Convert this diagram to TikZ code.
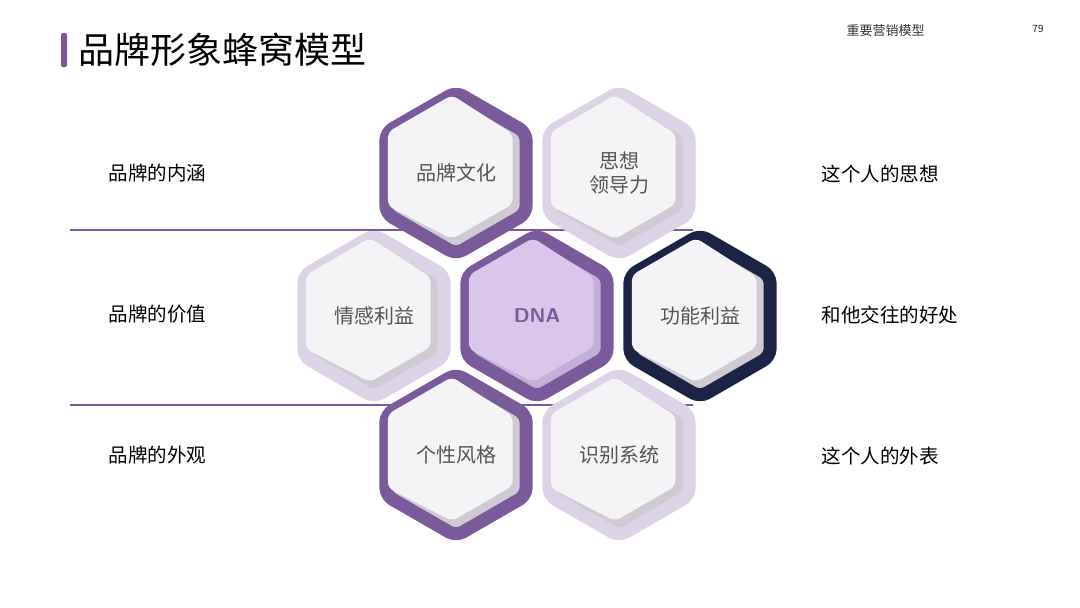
\documentclass[tikz,border=0pt]{standalone}
\usepackage{fontspec}
\setmainfont{Noto Sans CJK SC}
\definecolor{dpur}{HTML}{7B5A9B}
\definecolor{lpur}{HTML}{DCD3E6}
\definecolor{navy}{HTML}{1B2446}
\definecolor{inner}{HTML}{F4F3F5}
\definecolor{shad}{HTML}{CFCAD4}
\definecolor{dnaf}{HTML}{D9C6EA}
\definecolor{dnas}{HTML}{C4AFD8}
\definecolor{txt}{HTML}{555555}
\newcommand{\hexa}[7]{%
  \begin{scope}[shift={(#1,#2)}]
    \draw[line width=13pt,#3,rounded corners=8pt,fill=#5] (90:81)--(30:81)--(-30:81)--(-90:81)--(-150:81)--(150:81)--cycle;
    \fill[#4,rounded corners=6pt,shift={(-4,-4)}] (90:70)--(30:70)--(-30:70)--(-90:74)--(-150:74)--(150:74)--cycle;
    \node[text=txt,font=\fontsize{20}{24}\selectfont,align=center] (#6) at (0,0) {#7};
  \end{scope}}
\begin{document}
\begin{tikzpicture}[x=1pt,y=-1pt]
\useasboundingbox (0,0) rectangle (1080,608);
\fill[white] (0,0) rectangle (1080,608);
\fill[dpur,rounded corners=1.5pt] (61,33) rectangle (67,67);
\node[anchor=west,font=\fontsize{36}{40}\selectfont] (title) at (75,50) {品牌形象蜂窝模型};
\node[anchor=west,font=\fontsize{13}{15}\selectfont,text=black!80] (sub) at (843,31) {重要营销模型};
\node[font=\fontsize{10}{12}\selectfont,text=navy] (pg) at (1038,29) {79};
\coordinate (l1a) at (70,230); \coordinate (l1b) at (693,230);
\coordinate (l2a) at (70,405); \coordinate (l2b) at (693,405);
\draw[dpur,line width=1.2pt] (l1a)--(l1b);
\draw[dpur,line width=1.2pt] (l2a)--(l2b);
\hexa{456}{173}{dpur}{inner}{shad}{h1}{品牌文化}
\hexa{619}{173}{lpur}{inner}{shad}{h2}{思想\\领导力}
\hexa{374}{316}{lpur}{inner}{shad}{h3}{情感利益}
\hexa{537}{316}{dpur}{dnaf}{dnas}{h4}{}
\node[text=dpur,font=\sffamily\bfseries\fontsize{20}{23}\selectfont] (dna) at (537,316) {DNA};
\hexa{700}{316}{navy}{inner}{shad}{h5}{功能利益}
\hexa{456}{455}{dpur}{inner}{shad}{h6}{个性风格}
\hexa{619}{455}{lpur}{inner}{shad}{h7}{识别系统}
\begin{scope}[every node/.style={anchor=west,font=\fontsize{19.5}{23}\selectfont}]
\node (a1) at (105,173) {品牌的内涵};
\node (a2) at (105,314) {品牌的价值};
\node (a3) at (105,455) {品牌的外观};
\node (b1) at (818,174) {这个人的思想};
\node (b2) at (818,315) {和他交往的好处};
\node (b3) at (818,456) {这个人的外表};
\end{scope}
\end{tikzpicture}
\end{document}
